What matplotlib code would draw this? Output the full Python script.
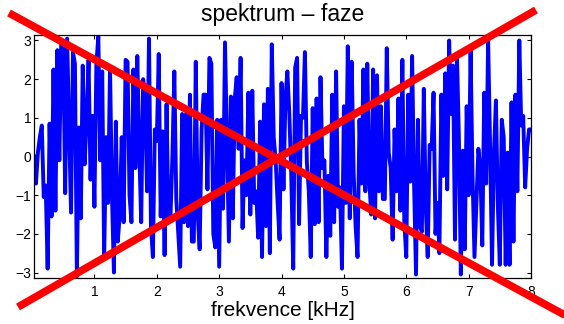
import numpy as np
import matplotlib
matplotlib.use('Agg')
import matplotlib.pyplot as plt
from matplotlib.lines import Line2D

plt.rcParams['font.family'] = ['Liberation Sans', 'DejaVu Sans']

# phase spectrum values [rad], 256 bins up to 8 kHz
phase_a = [0.0, -0.7, 0.1, 0.5, 0.8, -1.05, -0.75, -2.9, 0.85, -1.55,
           2.25, -1.4, 2.75, -0.1, 3.0, 2.8, -0.95, 3.05, 0.8, -1.45,
           2.7, 2.4, -3.1, 0.75, -1.6, 2.35, -0.2, 1.0, 2.5, -0.6,
           1.05, -1.3, 2.4, 3.1, -0.1, 2.2, -2.6, 0.5, -1.2, 2.3,
           -1.0, -3.0, 0.9, -2.2, -1.5]
phase_b = [0.5, -1.7, 2.5, 2.45, -1.0, -1.7, 2.25, -0.3, 2.6, 0.2,
           -1.7, 2.0, 1.5, -0.9, 3.05, -1.8, -2.6, 0.7, 0.4, 2.65,
           -1.55, 0.65, -2.55, 1.35, -1.7, -1.6, 0.0, 2.2, -1.1, -2.0,
           -2.85, 1.1, -1.7, 1.1, -1.8, 1.6, -2.2, -2.2, 2.45, -1.5,
           -2.4, 0.7, 1.6]
phase_c = [1.6, -0.85, 2.55, 2.4, -2.0, -2.35, 0.95, -2.85, 0.95, -1.35,
           2.95, 0.35, -2.2, 1.55, -1.6, 1.5, 2.05, 0.2, 2.55, -1.85,
           -0.1, -1.0, 1.65, -1.5, 1.7, -1.2, -0.9, -2.1, 0.9, -2.6,
           1.35, -1.8, 1.75, -2.5, 2.9, 0.5, -0.1, -1.2, -2.15, 1.9,
           -0.85, 1.5, 2.2, 1.1]
phase_d = [-0.5, -2.9, 2.3, 2.55, -1.75, 1.05, 1.0, 2.7, -0.15, -0.9,
           -2.6, 1.25, -1.75, 1.5, -1.7, 2.05, -0.3, -0.1, -2.6, -0.5,
           -2.05, 1.6, -1.7, 2.2, -1.3, -0.8, -2.9, 1.3, -1.2, 2.85,
           -1.6, 2.45, -0.4, -1.8, -2.6, 0.95, -0.7, 2.25, -0.9, 2.4,
           -0.6, -1.5, 2.25]
phase_e = [-1.6, 2.1, -0.9, 1.3, -1.1, -1.1, 2.8, 0.1, -0.3, -2.15,
           0.7, -0.9, 1.5, -1.4, 2.5, -1.7, -2.6, 1.6, -0.65, 2.6,
           -0.7, -3.05, 0.95, -1.8, -1.95, 1.75, -1.3, -2.6, 0.3, 0.2,
           1.65, -2.0, -1.2, -2.5, 1.6, -0.5, 2.15, -0.85, 3.0, 1.1,
           2.35, -2.15, 2.65, 0.5]
phase_f = [-3.05, 0.15, -2.4, 1.3, -1.0, 2.75, -0.5, -2.6, -1.2, 0.2,
           -0.3, -2.3, 1.65, -0.7, 3.0, 0.3, -2.8, 0.1, 1.45, -1.3,
           -2.8, 0.95, 0.5, -2.8, 0.1, -2.8, 1.4, -2.2, 1.6, -0.9,
           3.0, 0.8, 1.05, -0.8, 0.2, 0.7, 0.7]
phase = np.array(phase_a + phase_b + phase_c + phase_d + phase_e + phase_f)

f_max = 8.0  # kHz
freq = np.arange(1, len(phase) + 1) * f_max / len(phase)

x_ticks = [1, 2, 3, 4, 5, 6, 7, 8]
y_ticks = [-3, -2, -1, 0, 1, 2, 3]

W, H = 564, 324
fig = plt.figure(figsize=(W / 100, H / 100), dpi=100)
ax = fig.add_axes([34 / W, 1 - 278 / H, 497 / W, 243 / H])

ax.plot(freq, phase, color='#0000ff', linewidth=2.8)
ax.set_xlim(freq[0], f_max)
ax.set_ylim(-np.pi, np.pi)
ax.set_xticks(x_ticks)
ax.set_yticks(y_ticks)
ax.set_yticklabels(['\u22123', '\u22122', '\u22121', '0', '1', '2', '3'])
ax.tick_params(direction='in', top=True, right=True, length=3, width=0.8,
               labelsize=10, colors='black')
ax.tick_params(axis='x', pad=5)
ax.tick_params(axis='y', pad=2)
for s in ax.spines.values():
    s.set_linewidth(0.9)

fig.text(282.5 / W, 1 - 21 / H, 'spektrum \u2013 faze', ha='center',
         va='baseline', fontsize=16.5)
fig.text(282.5 / W, 1 - 316 / H, 'frekvence [kHz]', ha='center',
         va='baseline', fontsize=15)

# red cross over the whole figure (pixel coords from the picture)
cross_a = [(9, 13), (572, 319)]
cross_b = [(18, 307), (536, 10)]
for (x0, y0), (x1, y1) in [cross_a, cross_b]:
    fig.add_artist(Line2D([x0 / W, x1 / W], [1 - y0 / H, 1 - y1 / H],
                          transform=fig.transFigure, color='#ff0000',
                          linewidth=5.5, solid_capstyle='butt'))

fig.savefig('out.png', dpi=100)
